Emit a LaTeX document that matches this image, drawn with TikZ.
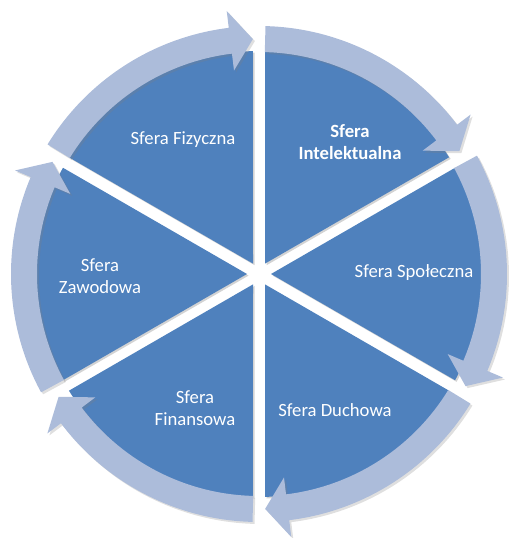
\documentclass[tikz,border=0pt]{standalone}
\usepackage{fontspec}
\setmainfont{Carlito}
\usetikzlibrary{shadows}
\definecolor{sferablue}{RGB}{79,129,189}
\definecolor{ringblue}{RGB}{172,188,218}

\begin{document}
\begin{tikzpicture}[
        x=0.75pt, y=0.75pt,
        sector/.style={
            fill=sferablue,
            drop shadow={shadow xshift=1.2pt, shadow yshift=-1.2pt, opacity=0.35}
        },
        ringarrow/.style={
            fill=ringblue,
            drop shadow={shadow xshift=1.5pt, shadow yshift=-1.5pt, opacity=0.25}
        },
        sferatext/.style={
            text=white,
            align=center,
            font=\fontsize{14}{16.5}\selectfont
        }
    ]
    \useasboundingbox (-259,-264) rectangle (250,274);

    \foreach \b in {90,30,-30,-90,-150,150} {
        \path[sector] (\b-30:12) -- (\b-1.55:223)
            arc[start angle=\b-1.55, end angle=\b-58.45, radius=223] -- cycle;
    }

    \foreach \b in {90,30,-30,-90,-150,150} {
        \path[ringarrow] (\b-1.5:222) arc[start angle=\b-1.5, end angle=\b-53, radius=222]
            -- (\b-53:205) -- (\b-58.5:235) -- (\b-53:265) -- (\b-53:248)
            arc[start angle=\b-53, end angle=\b-1.5, radius=248] -- cycle;
    }

    \node[sferatext] (fizyczna) at (-76,134) {Sfera Fizyczna};
    \node[sferatext, font=\fontsize{14}{16.5}\selectfont\bfseries] (intelektualna) at (91,132) {Sfera\\Intelektualna};
    \node[sferatext] (spoleczna) at (155,1) {Sfera Społeczna};
    \node[sferatext] (duchowa) at (76,-136) {Sfera Duchowa};
    \node[sferatext] (finansowa) at (-64,-134.5) {Sfera\\Finansowa};
    \node[sferatext] (zawodowa) at (-159,-2) {Sfera\\Zawodowa};

\end{tikzpicture}
\end{document}
